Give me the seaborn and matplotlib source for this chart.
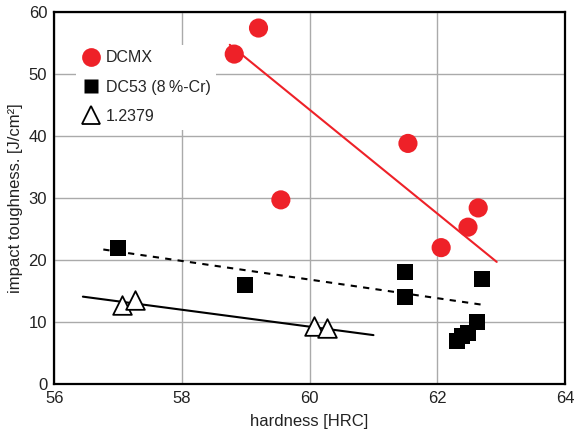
import pandas as pd
import matplotlib
matplotlib.use('Agg')
import matplotlib.pyplot as plt
import seaborn as sns
from matplotlib.lines import Line2D

# measured points
DCMX_HRC = [58.82, 59.2, 59.55, 61.54, 62.06, 62.48, 62.64]
DCMX_TOUGH = [53.2, 57.4, 29.7, 38.8, 22.0, 25.3, 28.4]

DC53_HRC = [57.0, 58.99, 61.49, 61.49, 62.70, 62.31, 62.39, 62.48, 62.62]
DC53_TOUGH = [22.0, 16.0, 18.1, 14.0, 17.0, 7.0, 7.7, 8.2, 10.0]

W2379_HRC = [57.06, 57.27, 60.07, 60.27]
W2379_TOUGH = [12.8, 13.5, 9.3, 9.0]

# trend lines (end points)
DCMX_FIT_X = [58.75, 62.93]
DCMX_FIT_Y = [54.7, 19.7]
DC53_FIT_X = [56.77, 62.7]
DC53_FIT_Y = [21.7, 12.8]
W2379_FIT_X = [56.45, 61.0]
W2379_FIT_Y = [14.1, 7.9]

LEGEND_LABELS = ['DCMX', 'DC53 (8\u2009%-Cr)', '1.2379']

OUTPUT_PNG_FILE = 'out.png'


def plot_toughness(output_png):
    sns.set_style('white')
    plt.rcParams['font.family'] = ['Liberation Sans', 'DejaVu Sans']

    fig, ax = plt.subplots(figsize=(5.76, 4.41), dpi=100)

    red = '#ee2128'

    sns.lineplot(x=DCMX_FIT_X, y=DCMX_FIT_Y, ax=ax, color=red, linewidth=1.5)
    sns.lineplot(x=DC53_FIT_X, y=DC53_FIT_Y, ax=ax, color='black', linewidth=1.5,
                 linestyle=(0, (3, 3)))
    sns.lineplot(x=W2379_FIT_X, y=W2379_FIT_Y, ax=ax, color='black', linewidth=1.5)

    sns.scatterplot(x=DCMX_HRC, y=DCMX_TOUGH, ax=ax, color=red, marker='o',
                    s=190, edgecolor='none', zorder=3)
    sns.scatterplot(x=DC53_HRC, y=DC53_TOUGH, ax=ax, color='black', marker='s',
                    s=130, edgecolor='none', zorder=3)
    sns.scatterplot(x=W2379_HRC, y=W2379_TOUGH, ax=ax, marker='^',
                    s=180, facecolor='white', edgecolor='black', linewidth=1.3, zorder=3)

    ax.set_xlim(56, 64)
    ax.set_ylim(0, 60)
    ax.set_xticks([56, 58, 60, 62, 64])
    ax.set_yticks([0, 10, 20, 30, 40, 50, 60])
    ax.tick_params(axis='both', labelsize=12, length=0, pad=5, colors='#222222')
    ax.set_xlabel('hardness [HRC]', fontsize=12, color='#222222', labelpad=6)
    ax.set_ylabel('impact toughness. [J/cm\u00b2]', fontsize=12, color='#222222', labelpad=4)
    ax.grid(True, color='#aaaaaa', linewidth=1.0)
    ax.set_axisbelow(True)
    for sp in ax.spines.values():
        sp.set_color('black')
        sp.set_linewidth(1.6)

    handles = [
        Line2D([], [], linestyle='none', marker='o', markersize=13.5,
               markerfacecolor=red, markeredgecolor='none'),
        Line2D([], [], linestyle='none', marker='s', markersize=10,
               markerfacecolor='black', markeredgecolor='none'),
        Line2D([], [], linestyle='none', marker='^', markersize=13.5,
               markerfacecolor='white', markeredgecolor='black', markeredgewidth=1.3),
    ]
    ax.legend(handles, LEGEND_LABELS, loc='upper left', bbox_to_anchor=(0.043, 0.912),
              frameon=True, framealpha=1, edgecolor='none', fontsize=11.5,
              handlelength=1.2, handletextpad=0.3, labelspacing=0.9, borderpad=0.35,
              borderaxespad=0, fancybox=False)

    fig.subplots_adjust(left=0.094, right=0.981, top=0.973, bottom=0.129)
    fig.savefig(output_png, dpi=100)


if __name__ == '__main__':
    plot_toughness(OUTPUT_PNG_FILE)
